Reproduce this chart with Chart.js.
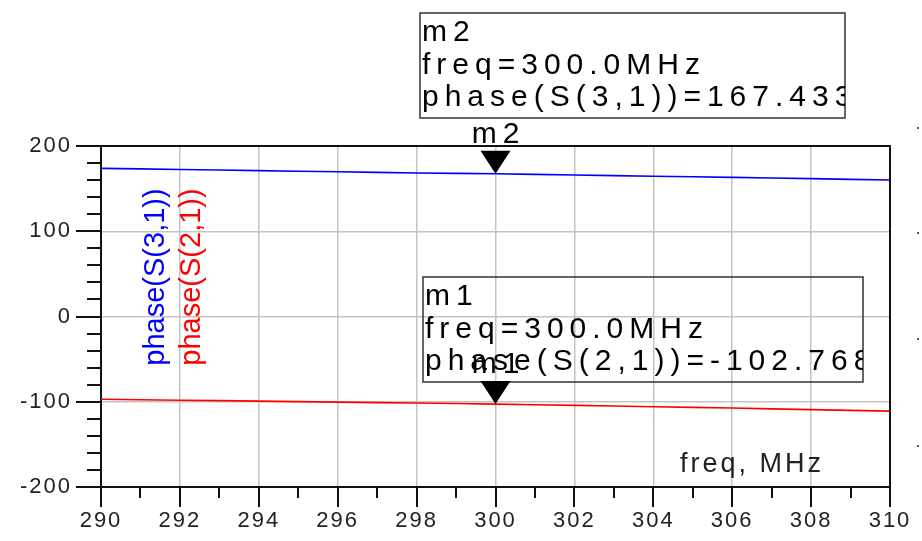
<!DOCTYPE html>
<html>
<head>
<meta charset="utf-8">
<script src="https://cdn.jsdelivr.net/npm/chart.js@4.4.1/dist/chart.umd.min.js"></script>
<style>
html, body { margin: 0; padding: 0; background: #fff; }
#wrap { width: 922px; height: 541px; position: relative; }
</style>
</head>
<body>
<div id="wrap"><canvas id="myChart"></canvas></div>
<script>
// data
var freqs = [290, 291, 292, 293, 294, 295, 296, 297, 298, 299, 300, 301, 302, 303, 304, 305, 306, 307, 308, 309, 310];
var phaseS31 = [173.8, 173.2, 172.5, 171.8, 171.1, 170.4, 169.8, 169.1, 168.4, 167.9, 167.4, 166.7, 166.0, 165.3, 164.6, 163.9, 163.2, 162.4, 161.7, 160.9, 160.2];
var phaseS21 = [-97.1, -97.6, -98.2, -98.7, -99.3, -99.8, -100.4, -101.0, -101.5, -102.1, -102.8, -103.5, -104.2, -105.0, -105.8, -106.6, -107.4, -108.3, -109.2, -110.1, -111.0];
var xTicks = [290, 292, 294, 296, 298, 300, 302, 304, 306, 308, 310];
var yTicks = [-200, -100, 0, 100, 200];

var traceNames = ['phase(S(3,1))', 'phase(S(2,1))'];
var traceColors = ['#0000ff', '#ff0000'];

var markerNames = ['m2', 'm1'];
var markerFreqs = [300.0, 300.0];
var markerValues = [167.433, -102.768];
var markerTraces = ['phase(S(3,1))', 'phase(S(2,1))'];

var FONT = "'Liberation Sans', Arial, sans-serif";

// marker readout boxes (left/top/width in px)
var boxes = [
    {left: 420, top: 13, width: 425, height: 105},
    {left: 423, top: 277, width: 440, height: 105}
];

function pts(vals) {
    return freqs.map(function(f, i) { return {x: f, y: vals[i]}; });
}

var adsDecor = {
    id: 'adsDecor',
    beforeDraw: function(chart) {
        chart.ctx.letterSpacing = '2px';
    },
    afterDraw: function(chart) {
        var ctx = chart.ctx, a = chart.chartArea;
        var xs = chart.scales.x, ys = chart.scales.y;
        ctx.save();
        ctx.letterSpacing = '0px';

        // top / right frame
        ctx.strokeStyle = '#111';
        ctx.lineWidth = 2;
        ctx.beginPath();
        ctx.moveTo(a.left - 25, a.top);
        ctx.lineTo(a.right, a.top);
        ctx.lineTo(a.right, a.bottom);
        ctx.stroke();

        // y ticks, minor every 20
        ctx.beginPath();
        for (var v = -200; v <= 200; v += 20) {
            var py = Math.round(ys.getPixelForValue(v));
            var len = (v % 100 === 0) ? 25 : 14;
            ctx.moveTo(a.left - len, py);
            ctx.lineTo(a.left, py);
        }
        // x ticks, minor every 1
        for (var f = 290; f <= 310; f += 1) {
            var px = Math.round(xs.getPixelForValue(f));
            var l2 = (f % 2 === 0) ? 20 : 11;
            ctx.moveTo(px, a.bottom);
            ctx.lineTo(px, a.bottom + l2);
        }
        ctx.stroke();

        // rotated trace names inside plot
        ctx.font = '29px ' + FONT;
        ctx.textAlign = 'center';
        ctx.textBaseline = 'middle';
        var tx = [156, 192];
        for (var i = 0; i < traceNames.length; i++) {
            ctx.save();
            ctx.translate(tx[i], 277);
            ctx.rotate(-Math.PI / 2);
            ctx.fillStyle = traceColors[i];
            ctx.fillText(traceNames[i], 0, 0);
            ctx.restore();
        }

        // x axis name
        ctx.letterSpacing = '3px';
        ctx.font = '27px ' + FONT;
        ctx.fillStyle = '#222';
        ctx.textAlign = 'left';
        ctx.textBaseline = 'alphabetic';
        ctx.fillText('freq, MHz', 680, 472);

        // right side dots
        ctx.fillStyle = '#555';
        [127, 232, 338, 445].forEach(function(dy) { ctx.fillRect(917, dy, 2, 2); });

        // markers
        for (var m = 0; m < markerNames.length; m++) {
            var b = boxes[m];
            var mx = xs.getPixelForValue(markerFreqs[m]);
            var my = ys.getPixelForValue(markerValues[m]);

            ctx.strokeStyle = '#333';
            ctx.lineWidth = 1.5;
            ctx.strokeRect(b.left, b.top, b.width, b.height);

            ctx.save();
            ctx.beginPath();
            ctx.rect(b.left, b.top, b.width, b.height);
            ctx.clip();
            ctx.fillStyle = '#000';
            ctx.font = '30px ' + FONT;
            ctx.letterSpacing = '6px';
            ctx.textAlign = 'left';
            ctx.fillText(markerNames[m], b.left + 2, b.top + 28);
            ctx.fillText('freq=' + markerFreqs[m].toFixed(1) + 'MHz', b.left + 2, b.top + 61);
            ctx.fillText(markerTraces[m] + '=' + markerValues[m].toFixed(3), b.left + 2, b.top + 93);
            ctx.restore();

            ctx.fillStyle = '#000';
            ctx.beginPath();
            ctx.moveTo(mx - 15, my - 23);
            ctx.lineTo(mx + 15, my - 23);
            ctx.lineTo(mx, my);
            ctx.closePath();
            ctx.fill();

            ctx.font = '30px ' + FONT;
            ctx.letterSpacing = '6px';
            ctx.textAlign = 'center';
            ctx.fillText(markerNames[m], mx + 3, my - 31);
        }
        ctx.restore();
    }
};

var tickFont = {family: FONT, size: 22};

var myChart = new Chart(document.getElementById('myChart'), {
    type: 'line',
    data: {
        datasets: [{
            label: traceNames[0],
            data: pts(phaseS31),
            borderColor: traceColors[0],
            borderWidth: 1.6,
            pointRadius: 0,
            tension: 0
        }, {
            label: traceNames[1],
            data: pts(phaseS21),
            borderColor: traceColors[1],
            borderWidth: 1.6,
            pointRadius: 0,
            tension: 0
        }]
    },
    options: {
        responsive: true,
        maintainAspectRatio: false,
        animation: false,
        layout: {padding: {left: 0, top: 146, right: 32, bottom: 0}},
        plugins: {legend: {display: false}, tooltip: {enabled: false}},
        scales: {
            x: {
                type: 'linear',
                min: 290,
                max: 310,
                afterBuildTicks: function(s) { s.ticks = xTicks.map(function(v) { return {value: v}; }); },
                afterFit: function(s) { s.height = 54; s.paddingLeft = 0; s.paddingRight = 0; },
                ticks: {font: tickFont, color: '#222', padding: 21, maxRotation: 0, autoSkip: false},
                grid: {color: '#c4c4c4', lineWidth: 1.5, drawTicks: false},
                border: {color: '#111', width: 2}
            },
            y: {
                min: -200,
                max: 200,
                afterBuildTicks: function(s) { s.ticks = yTicks.map(function(v) { return {value: v}; }); },
                afterFit: function(s) { s.width = 101; s.paddingTop = 0; s.paddingBottom = 0; },
                ticks: {font: tickFont, color: '#222', padding: 29},
                grid: {color: '#c4c4c4', lineWidth: 1.5, drawTicks: false},
                border: {color: '#111', width: 2}
            }
        }
    },
    plugins: [adsDecor]
});
</script>
</body>
</html>
